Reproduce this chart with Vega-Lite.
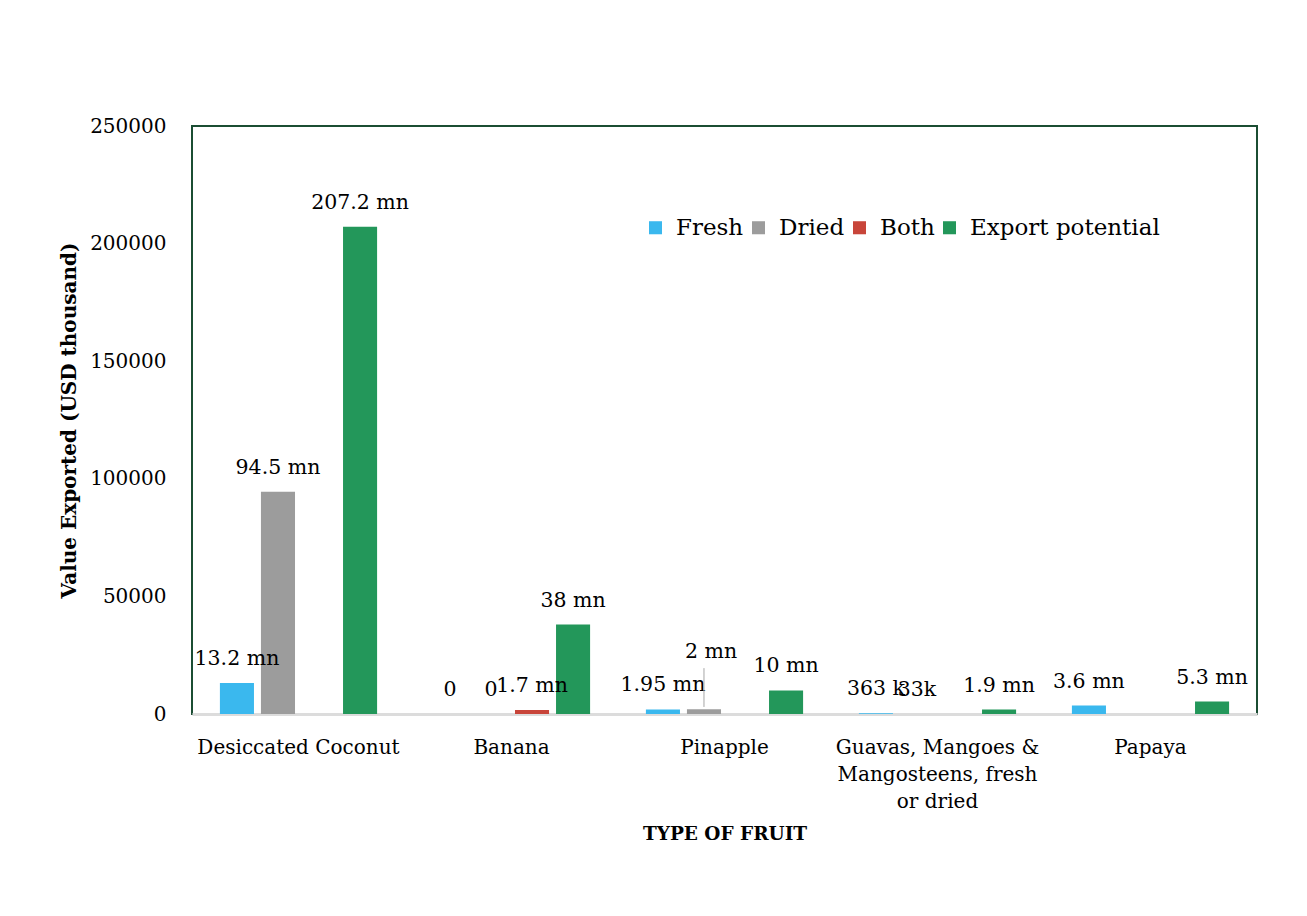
{
  "$schema": "https://vega.github.io/schema/vega-lite/v6.json",
  "autosize": {"type": "none"},
  "padding": {"left": 192, "top": 126, "right": 50, "bottom": 202},
  "width": 1065,
  "height": 588,
  "background": "white",
  "config": {
    "font": "DejaVu Serif",
    "view": {"stroke": "#1B4D33", "strokeWidth": 2}
  },
  "data": {
    "values": [
      {"fruit": "Desiccated Coconut", "type": "Fresh", "value": 13200, "label": "13.2 mn"},
      {"fruit": "Desiccated Coconut", "type": "Dried", "value": 94500, "label": "94.5 mn"},
      {"fruit": "Desiccated Coconut", "type": "Export potential", "value": 207200, "label": "207.2 mn"},
      {"fruit": "Banana", "type": "Fresh", "value": 0, "label": "0"},
      {"fruit": "Banana", "type": "Dried", "value": 0, "label": "0"},
      {"fruit": "Banana", "type": "Both", "value": 1700, "label": "1.7 mn"},
      {"fruit": "Banana", "type": "Export potential", "value": 38000, "label": "38 mn"},
      {"fruit": "Pinapple", "type": "Fresh", "value": 1950, "label": "1.95 mn"},
      {"fruit": "Pinapple", "type": "Dried", "value": 2000, "label": "2 mn"},
      {"fruit": "Pinapple", "type": "Export potential", "value": 10000, "label": "10 mn"},
      {"fruit": "Guavas, Mangoes & Mangosteens, fresh or dried", "type": "Fresh", "value": 363, "label": "363 k"},
      {"fruit": "Guavas, Mangoes & Mangosteens, fresh or dried", "type": "Dried", "value": 33, "label": "33k"},
      {"fruit": "Guavas, Mangoes & Mangosteens, fresh or dried", "type": "Export potential", "value": 1900, "label": "1.9 mn"},
      {"fruit": "Papaya", "type": "Fresh", "value": 3600, "label": "3.6 mn"},
      {"fruit": "Papaya", "type": "Export potential", "value": 5300, "label": "5.3 mn"}
    ]
  },
  "encoding": {
    "x": {
      "field": "fruit",
      "type": "nominal",
      "sort": ["Desiccated Coconut", "Banana", "Pinapple", "Guavas, Mangoes & Mangosteens, fresh or dried", "Papaya"],
      "scale": {"paddingInner": 0, "paddingOuter": 0},
      "axis": {
        "labelAngle": 0,
        "labelFont": "DejaVu Serif",
        "labelFontSize": 20,
        "labelColor": "#000000",
        "labelPadding": 23,
        "labelLineHeight": 27,
        "labelBaseline": "top",
        "labelLimit": 400,
        "labelExpr": "datum.value == 'Guavas, Mangoes & Mangosteens, fresh or dried' ? ['Guavas, Mangoes &', 'Mangosteens, fresh', 'or dried'] : datum.label",
        "ticks": false,
        "tickSize": 0,
        "domainColor": "#DCDCDC",
        "domainWidth": 3,
        "title": "TYPE OF FRUIT",
        "titleFont": "DejaVu Serif",
        "titleFontSize": 18.5,
        "titleFontWeight": "bold",
        "titleColor": "#000000",
        "titlePadding": 13
      }
    },
    "xOffset": {
      "field": "type",
      "type": "nominal",
      "sort": ["Fresh", "Dried", "Both", "Export potential"],
      "scale": {"domain": ["Fresh", "Dried", "Both", "Export potential"], "paddingInner": 0.17, "paddingOuter": 0.68}
    }
  },
  "layer": [
    {
      "mark": {"type": "bar"},
      "encoding": {
        "y": {
          "field": "value",
          "type": "quantitative",
          "scale": {"domain": [0, 250000], "nice": false},
          "axis": {
            "values": [0, 50000, 100000, 150000, 200000, 250000],
            "format": "d",
            "grid": false,
            "domain": false,
            "ticks": false,
            "tickSize": 0,
            "labelFont": "DejaVu Serif",
            "labelFontSize": 20,
            "labelColor": "#000000",
            "labelPadding": 26,
            "title": "Value Exported (USD thousand)",
            "titleFont": "DejaVu Serif",
            "titleFontSize": 20,
            "titleFontWeight": "bold",
            "titleColor": "#000000",
            "titlePadding": 10
          }
        },
        "color": {
          "field": "type",
          "type": "nominal",
          "scale": {
            "domain": ["Fresh", "Dried", "Both", "Export potential"],
            "range": ["#3AB8EE", "#9C9C9C", "#C8453A", "#23975A"]
          },
          "legend": {
            "orient": "none",
            "legendX": 452,
            "legendY": 90,
            "direction": "horizontal",
            "columns": 4,
            "title": null,
            "symbolType": "square",
            "symbolSize": 170,
            "symbolStrokeWidth": 0,
            "labelFont": "DejaVu Serif",
            "labelFontSize": 23,
            "labelLimit": 400,
            "labelColor": "#000000",
            "labelOffset": 9,
            "columnPadding": 3
          }
        }
      }
    },
    {
      "transform": [{"filter": "!(datum.fruit == 'Pinapple' && datum.type == 'Dried')"}],
      "mark": {"type": "text", "fontSize": 20.5, "font": "DejaVu Serif", "color": "#000000", "baseline": "middle", "dy": -24},
      "encoding": {
        "y": {"field": "value", "type": "quantitative"},
        "text": {"field": "label"}
      }
    },
    {
      "transform": [{"filter": "datum.fruit == 'Pinapple' && datum.type == 'Dried'"}],
      "mark": {"type": "text", "fontSize": 20.5, "font": "DejaVu Serif", "color": "#000000", "baseline": "middle", "dy": -57, "dx": 7},
      "encoding": {
        "y": {"field": "value", "type": "quantitative"},
        "text": {"field": "label"}
      }
    },
    {
      "transform": [{"filter": "datum.fruit == 'Pinapple' && datum.type == 'Dried'"}],
      "mark": {"type": "rule", "color": "#A6A6A6", "strokeWidth": 1},
      "encoding": {
        "y": {"datum": 3000},
        "y2": {"datum": 19500}
      }
    }
  ]
}
